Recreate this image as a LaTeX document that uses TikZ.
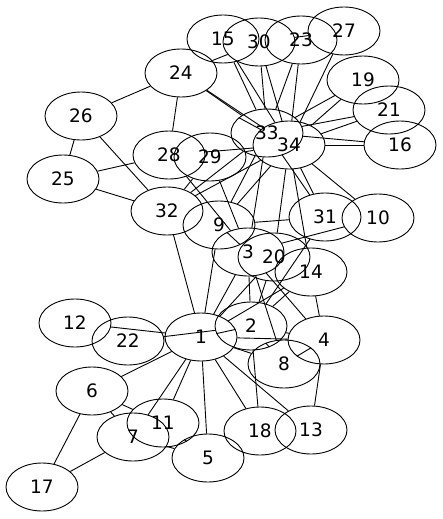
\documentclass[tikz,border=0pt]{standalone}
\usepackage{fontspec}
\setmainfont{DejaVu Sans}
\usetikzlibrary{shapes.geometric}
\begin{document}
\begin{tikzpicture}[x=1pt,y=-1pt,
  vtx/.style={ellipse,draw,line width=0.9pt,minimum width=72pt,minimum height=48pt,inner sep=0pt,font=\fontsize{18.5}{18.5}\selectfont},
  edge/.style={line width=0.9pt}]
\useasboundingbox (0,0) rectangle (443,519);
\node[vtx] (n1) at (201,337) {1};
\node[vtx] (n2) at (251,326) {2};
\node[vtx] (n3) at (248,252) {3};
\node[vtx] (n4) at (324,340) {4};
\node[vtx] (n5) at (208,458) {5};
\node[vtx] (n6) at (92,391) {6};
\node[vtx] (n7) at (133,437) {7};
\node[vtx] (n8) at (284,364) {8};
\node[vtx] (n9) at (219,225) {9};
\node[vtx] (n10) at (378,218) {10};
\node[vtx] (n11) at (163,423) {11};
\node[vtx] (n12) at (75,323) {12};
\node[vtx] (n13) at (311,430) {13};
\node[vtx] (n14) at (311,272) {14};
\node[vtx] (n15) at (223,39) {15};
\node[vtx] (n16) at (400,145) {16};
\node[vtx] (n17) at (42,487) {17};
\node[vtx] (n18) at (260,431) {18};
\node[vtx] (n19) at (363,80) {19};
\node[vtx] (n20) at (274,257) {20};
\node[vtx] (n21) at (389,110) {21};
\node[vtx] (n22) at (128,341) {22};
\node[vtx] (n23) at (301,40) {23};
\node[vtx] (n24) at (181,73) {24};
\node[vtx] (n25) at (63,179) {25};
\node[vtx] (n26) at (81,116) {26};
\node[vtx] (n27) at (344,31) {27};
\node[vtx] (n28) at (169,155) {28};
\node[vtx] (n29) at (210,157) {29};
\node[vtx] (n30) at (259,42) {30};
\node[vtx] (n31) at (325,217) {31};
\node[vtx] (n32) at (167,211) {32};
\node[vtx] (n33) at (267,133) {33};
\node[vtx] (n34) at (289,145) {34};
\foreach \a/\b in {1/2,1/3,1/4,1/5,1/6,1/7,1/8,1/9,1/11,1/12,1/13,1/14,1/18,1/20,1/22,1/32,
  2/3,2/4,2/8,2/14,2/18,2/20,2/22,2/31,
  3/4,3/8,3/9,3/10,3/14,3/28,3/29,3/33,
  4/8,4/13,4/14,5/7,5/11,6/7,6/11,6/17,7/17,
  9/31,9/33,9/34,10/34,14/34,15/33,15/34,16/33,16/34,19/33,19/34,20/34,21/33,21/34,
  23/33,23/34,24/26,24/28,24/30,24/33,24/34,25/26,25/28,25/32,26/32,27/30,27/34,
  28/34,29/32,29/34,30/33,30/34,31/33,31/34,32/33,32/34,33/34}
  \draw[edge] (n\a) -- (n\b);
\end{tikzpicture}
\end{document}
